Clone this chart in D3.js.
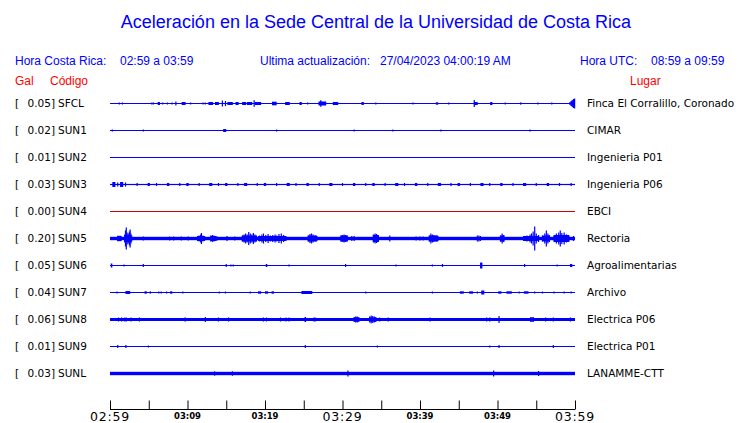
<!DOCTYPE html>
<html><head><meta charset="utf-8">
<script src="https://cdn.jsdelivr.net/npm/d3@7/dist/d3.min.js"></script>
<style>body{margin:0;background:#fff}svg{display:block}</style>
</head><body>
<svg id="chart" width="740" height="423"></svg>
<script>
// ---------- DATA ----------
const titleText = "Aceleración en la Sede Central de la Universidad de Costa Rica";
const horaCR = "02:59 a 03:59";
const horaUTC = "08:59 a 09:59";
const actualizacion = "27/04/2023 04:00:19 AM";

const stations = ["SFCL","SUN1","SUN2","SUN3","SUN4","SUN5","SUN6","SUN7","SUN8","SUN9","SUNL"];
const galValues = ["0.05","0.02","0.01","0.03","0.00","0.20","0.05","0.04","0.06","0.01","0.03"];
const places = ["Finca El Corralillo, Coronado","CIMAR","Ingenieria P01","Ingenieria P06","EBCI","Rectoria","Agroalimentarias","Archivo","Electrica P06","Electrica P01","LANAMME-CTT"];
// background noise level (relative amplitude) per station
const noiseLevel = [0.5,0.5,0.5,0.6,0.5,1.7,0.5,0.5,1.5,0.5,1.7];

// minutes after 02:59
const tickMinutes = [0,5,10,15,20,25,30,35,40,45,50,55,60];
const majorLabels = [[0,"02:59"],[30,"03:29"],[60,"03:59"]];
const minorLabels = [[10,"03:09"],[20,"03:19"],[40,"03:39"],[50,"03:49"]];

// events per station: [minute, amplitude, duration(min)]
const evSFCL = [[1.2,1],[1.6,1],[5.4,1],[5.6,1],[6.3,1.5,0.3],[6.8,1],[7.4,1],[8.0,1],[8.5,2],[9.5,1.5,0.5],[10.4,1],[12.0,1],[12.3,1],[13.0,1.5,0.6],[13.8,1.5,0.5],[14.5,3],[14.9,2.5],[15.5,1.5,0.7],[16.4,1.5,0.4],[17.3,1.5,0.5],[18.0,1.5,0.7],[18.6,3.3],[19.1,1.5,0.8],[21.2,1.8,0.6],[22.9,1.5,0.6],[24.6,1.5,0.3],[25.5,1],[27.4,2,1.0],[27.2,3.3],[29.1,1.5,0.7],[32.6,1.5,0.3],[34.3,1],[39.1,1],[42.2,1.2,0.3],[43.7,1],[47.0,3.5],[47.2,1.5,0.5],[49.2,1.5,0.3],[51.0,1],[53.0,1.2],[55.2,1],[57.0,1],[59.35,1.5],[59.5,2.5],[59.65,3.5],[59.8,4.5],[59.95,5],[59.7,2,0.5]];
const evSUN1 = [[0.3,1],[4.3,1],[14.8,1.5,0.4],[21.5,1],[31.5,1],[36.5,1],[42.7,1],[54.2,1]];
const evSUN2 = [];
const evSUN3 = [[0.5,2.5,0.4],[1.0,2],[1.5,2.5,0.4],[2.0,2],[3.5,1.5],[5.0,1.5,0.3],[6.0,1.5],[7.5,1.5,0.3],[9.0,1.5],[10.0,1.5,0.3],[11.5,1.5],[13.0,1.5,0.4],[14.0,1.5],[15.0,1.5,0.3],[16.5,1.5],[17.5,1.5,0.4],[19.0,1.5],[20.0,1.5,0.3],[21.5,1.5],[23.0,1.5,0.4],[24.0,1.5],[25.5,1.5,0.3],[27.0,1.5],[28.5,1.5,0.4],[30.0,1.5],[31.5,1.5,0.3],[33.0,1.5],[34.0,1.5,0.3],[35.5,1.5],[37.0,1.5,0.4],[38.0,1.5],[39.5,1.5,0.3],[41.0,1.5],[42.5,1.5,0.4],[44.0,1.5],[45.0,1.5,0.3],[46.5,1.5],[48.0,1.5,0.4],[49.0,1.5],[50.5,1.5,0.3],[52.0,1.5],[53.5,1.5,0.4],[55.0,1.5],[56.5,1.5,0.3],[58.0,1.5],[59.5,1.5]];
const evSUN4 = [];
const evSUN5 = [[1.2,2.7,0.6],[1.9,4],[2.0,8],[2.1,11],[2.2,6],[2.35,5],[2.5,7],[2.6,9],[2.7,5],[2.8,3],[2.3,3.5,0.9],[4.3,2],[5.8,1.5],[7.7,2],[8.2,2],[9.2,2],[10.1,2],
 [11.3,2.5],[11.5,3],[11.7,4],[11.8,5.5],[12.0,3],[12.2,2.5],[11.7,2.5,0.8],[13.0,3],[13.2,3.5],[13.4,3],[13.6,2.5],[13.8,2],[13.35,2.5,0.8],[15.1,2.5],[16.1,2],
 [17.1,3],[17.3,4],[17.5,5],[17.7,4],[17.9,6.5],[18.1,5],[18.3,4],[18.5,5.5],[18.7,4],[18.9,3],[17.95,3,1.9],
 [19.3,3],[19.6,4],[19.8,5],[20.1,3.5],[20.4,4.5],[20.7,3],[21.0,3.5],[21.3,4],[21.5,3],[21.8,4.5],[22.1,5],[22.4,3.5],[22.7,2.5],[20.9,2.5,3.6],
 [25.6,3],[25.8,4.5],[26.0,5],[26.2,4],[26.5,3],[26.7,2.5],[26.1,3,1.2],
 [29.8,3],[30.0,3.5],[30.2,4],[30.4,3.5],[30.6,3],[30.2,3,0.9],[31.2,2.5],[31.5,2.5],
 [34.0,4],[34.2,5],[34.4,4.5],[34.6,3],[34.3,3.5,0.8],[36.1,3],[39.5,2],[40.0,2],[40.4,2],
 [41.2,3],[41.4,5],[41.6,4],[41.8,3.5],[42.1,3],[42.3,2.5],[41.75,3,1.2],
 [47.4,3],[47.6,3],[47.8,2.5],[50.4,3],[50.6,5],[50.8,3.5],[50.6,3,0.6],
 [53.4,2.5],[53.8,3],[54.2,4],[54.4,5],[54.6,7],[54.8,12],[55.0,5],[55.3,3.5],[54.3,2.5,2.0],
 [55.8,3],[56.1,5],[56.3,8],[56.5,5],[56.7,3.5],[56.25,3,1.0],
 [57.3,3],[57.6,5],[57.9,6],[58.1,8],[58.3,5.5],[58.6,6],[58.9,4],[59.2,3],[58.25,3.5,2.0],[59.8,2.5]];
const evSUN6 = [[0.2,2,0.2],[1.8,1],[4.3,1.5],[15.0,1.5],[15.6,1],[15.9,1],[20.2,1.5,0.2],[23.1,1],[30.4,1.5],[36.9,1],[41.6,1],[42.9,1.5],[47.9,3,0.3],[53.5,1.5],[57.7,1],[59.5,1.5,0.3]];
const evSUN7 = [[0.9,1],[2.3,1.5,0.6],[4.6,1.2,0.3],[5.2,1.2],[6.3,1],[6.6,1],[7.3,1],[7.9,1.2,0.3],[9.4,1],[14.1,1],[14.9,1],[18.1,1],[19.3,1.2,0.4],[20.2,1.2,0.4],[21.0,1.2,0.3],[25.4,1.5,1.4],[33.0,1],[41.6,1],[45.4,1.2,0.5],[46.6,1.2,0.5],[47.4,1],[48.1,2,0.4],[50.3,1.2,0.4],[51.5,1.2,0.7],[52.8,1],[53.7,1.2,0.6],[54.8,1],[55.8,1],[57.3,1],[58.6,1],[59.5,1]];
const evSUN8 = [[1.1,2],[1.5,2],[1.9,2],[2.1,2],[2.7,2],[3.8,2],[9.7,2,0.2],[12.3,2.5],[14.0,2],[15.3,2],[19.8,2],[20.2,2],[22.0,2],[22.7,2],[23.1,2],[25.2,2.5,0.2],[26.4,2,0.3],
 [31.5,2.5],[31.7,3],[31.9,3],[32.1,2.5],[31.8,2.2,0.6],[33.5,3],[33.7,4],[33.9,3.5],[34.1,3],[34.3,2.5],[33.9,2.2,0.8],[34.8,2],[35.9,2],[41.3,2],[48.6,2],[49.0,2],[50.2,3.5],[54.3,2.5],[54.6,2.5],[54.45,2,0.5],[56.2,2],[57.2,2],[59.4,2]];
const evSUN9 = [[1.0,1.5],[2.05,1.5],[4.95,1],[25.2,1.5],[34.5,1],[49.0,1],[50.2,1.5],[57.2,1.5]];
const evSUNL = [[13.5,2.2],[15.8,2.2],[30.7,3],[49.5,3],[55.3,2.5]];
const events = [evSFCL,evSUN1,evSUN2,evSUN3,evSUN4,evSUN5,evSUN6,evSUN7,evSUN8,evSUN9,evSUNL];

// ---------- DRAW ----------
const svg = d3.select("#chart");
const BLUE = "#0000ff", RED = "#ff0000";
const x = d3.scaleLinear().domain([0,60]).range([110,575]);
const y = d3.scalePoint().domain(stations).range([103.5,373.5]);
const amp = d3.scaleLinear().domain([0,10]).range([0,10]);

svg.append("rect").attr("width",740).attr("height",423).attr("fill","#fff");

svg.append("text").attr("x",376).attr("y",28).attr("text-anchor","middle")
  .attr("font-family","Liberation Sans, Arial, sans-serif").attr("font-size",18).attr("fill",BLUE).text(titleText);

const hdr = svg.append("g").attr("font-family","Liberation Sans, Arial, sans-serif").attr("font-size",12);
hdr.append("text").attr("x",15).attr("y",65).attr("fill",BLUE).text("Hora Costa Rica:");
hdr.append("text").attr("x",120).attr("y",65).attr("fill",BLUE).text(horaCR);
hdr.append("text").attr("x",260).attr("y",65).attr("fill",BLUE).text("Ultima actualización:");
hdr.append("text").attr("x",380).attr("y",65).attr("fill",BLUE).text(actualizacion);
hdr.append("text").attr("x",580).attr("y",65).attr("fill",BLUE).text("Hora UTC:");
hdr.append("text").attr("x",651).attr("y",65).attr("fill",BLUE).text(horaUTC);
hdr.append("text").attr("x",15).attr("y",85).attr("fill",RED).text("Gal");
hdr.append("text").attr("x",50).attr("y",85).attr("fill",RED).text("Código");
hdr.append("text").attr("x",630).attr("y",85).attr("fill",RED).text("Lugar");

const rows = svg.append("g").selectAll("g").data(stations).join("g");
const lab = svg.append("g").attr("font-family","DejaVu Sans, sans-serif").attr("font-size",10.5).attr("fill","#000");
stations.forEach((s,i)=>{
  const yc = y(s);
  lab.append("text").attr("x",15).attr("y",yc+3.5).text("[");
  lab.append("text").attr("x",55).attr("y",yc+3.5).attr("text-anchor","end").text(galValues[i]+"]");
  lab.append("text").attr("x",58).attr("y",yc+3.5).text(s);
  lab.append("text").attr("x",587).attr("y",yc+3.5).text(places[i]);
});

rows.each(function(s,i){
  const g = d3.select(this);
  const col = s==="SUN4" ? "#cc0000" : BLUE;
  const yc = y(s);
  const b = amp(noiseLevel[i]);
  g.append("rect").attr("x",x(0)).attr("width",x(60)-x(0))
    .attr("y",yc-b).attr("height",2*b).attr("fill",col);
  g.selectAll("rect.ev").data(events[i]).join("rect").attr("class","ev")
    .attr("x",d=>{const w=d[2]?x(d[0]+d[2]/2)-x(d[0]-d[2]/2):1.2; return x(d[0])-w/2;})
    .attr("width",d=>d[2]?x(d[0]+d[2]/2)-x(d[0]-d[2]/2):1.2)
    .attr("y",d=>yc-amp(d[1])).attr("height",d=>2*amp(d[1])).attr("fill",col);
});

// axis
const axis = d3.axisTop(x).tickValues(tickMinutes).tickSize(9).tickSizeOuter(0).tickFormat("");
const ag = svg.append("g").attr("transform","translate(0,409.5)").call(axis);
ag.selectAll("path,line").attr("stroke","#000").attr("stroke-width",1);
ag.select(".domain").attr("d",`M${x(0)},0H${x(60)}`);

svg.append("g").attr("font-family","DejaVu Sans, sans-serif").attr("font-size",12.5).attr("letter-spacing",0.8)
  .selectAll("text").data(majorLabels).join("text")
  .attr("x",d=>x(d[0])).attr("y",421).attr("text-anchor","middle").text(d=>d[1]);
svg.append("g").attr("font-family","DejaVu Sans, sans-serif").attr("font-size",8.5).attr("font-weight","bold")
  .selectAll("text").data(minorLabels).join("text")
  .attr("x",d=>x(d[0])).attr("y",418.5).attr("text-anchor","middle").text(d=>d[1]);
</script>
</body></html>
